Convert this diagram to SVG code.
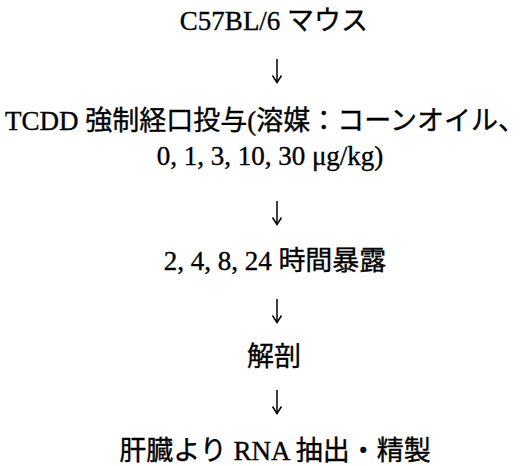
<svg xmlns="http://www.w3.org/2000/svg" width="525" height="466" viewBox="0 0 525 466">
  <style>
    .t { font-family: "Liberation Serif", "Noto Sans CJK JP", serif; font-size: 27px; fill: #000; stroke: #000; stroke-width: 0.35; text-anchor: middle; }
    .c { stroke: #000; stroke-width: 1.5; fill: none; }
  </style>
  <defs>
    <path id="head" d="M-4.5,-7 L0,0 L4.5,-7" fill="none" stroke="#000" stroke-width="1.5"/>
  </defs>
  <rect width="525" height="466" fill="#fff"/>
  <g id="n1"><text class="t" x="274" y="30">C57BL/6 マウス</text></g>
  <g id="n2">
    <text class="t" x="265" y="130">TCDD 強制経口投与(溶媒：コーンオイル、</text>
    <text class="t" x="270" y="165">0, 1, 3, 10, 30 μg/kg)</text>
  </g>
  <g id="n3"><text class="t" x="275" y="270">2, 4, 8, 24 時間暴露</text></g>
  <g id="n4"><text class="t" x="274" y="366">解剖</text></g>
  <g id="n5"><text class="t" x="275" y="460">肝臓より RNA 抽出・精製</text></g>
  <g id="connectors">
    <line class="c" x1="277" y1="59" x2="277" y2="82"/>
    <use href="#head" x="277" y="82.5"/>
    <line class="c" x1="277" y1="201" x2="277" y2="224"/>
    <use href="#head" x="277" y="224.5"/>
    <line class="c" x1="277" y1="299" x2="277" y2="322"/>
    <use href="#head" x="277" y="322.5"/>
    <line class="c" x1="277" y1="390" x2="277" y2="413"/>
    <use href="#head" x="277" y="413.5"/>
  </g>
</svg>
